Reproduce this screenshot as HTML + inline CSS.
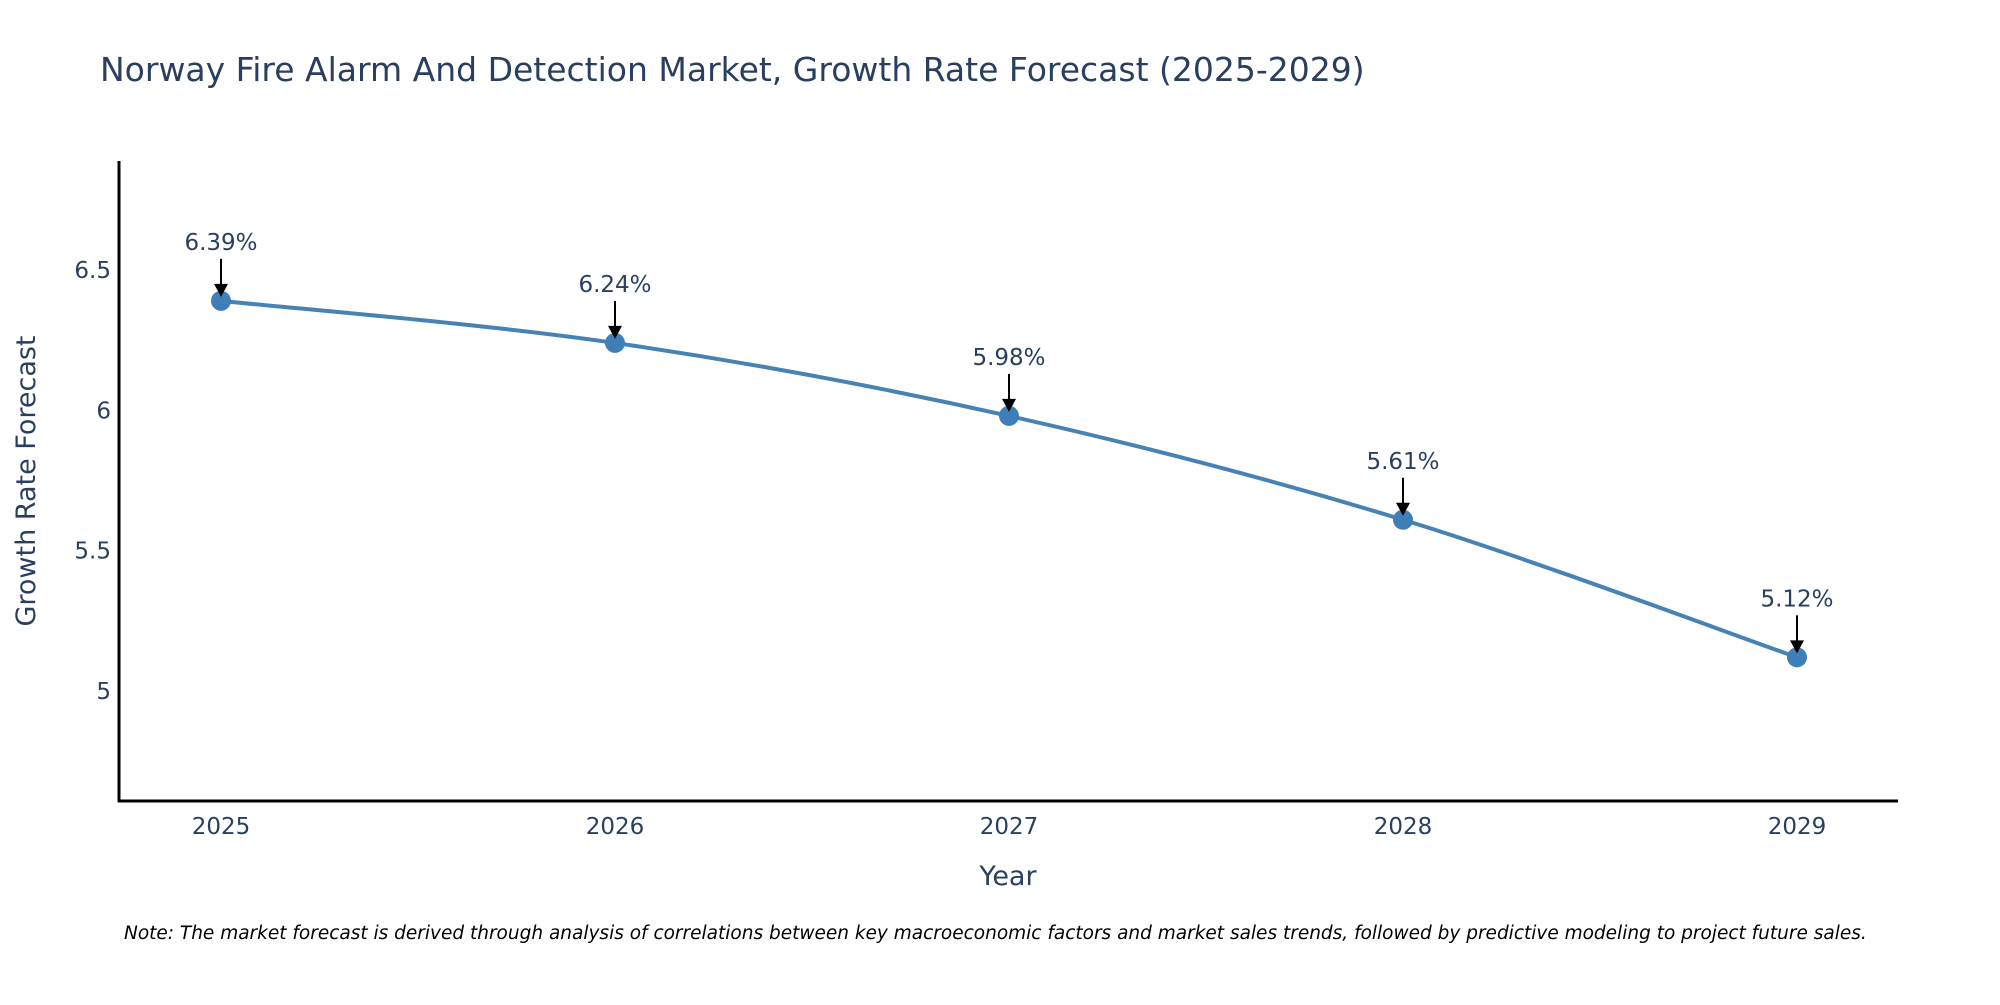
<!DOCTYPE html>
<html><head><meta charset="utf-8"><style>
html,body{margin:0;padding:0;background:#fff;}
svg text{font-family:"DejaVu Sans","Liberation Sans",sans-serif;}
</style></head><body>
<svg id="chart" width="2000" height="1000" xmlns="http://www.w3.org/2000/svg">
<text x="100" y="81" font-size="33" fill="#2a3f5f">Norway Fire Alarm And Detection Market, Growth Rate Forecast (2025-2029)</text>
<g id="plot"></g>
<line x1="119" y1="161" x2="119" y2="802" stroke="#000" stroke-width="3"/>
<line x1="118" y1="801" x2="1898" y2="801" stroke="#000" stroke-width="3"/>
<text x="1008" y="885" font-size="27" fill="#2a3f5f" text-anchor="middle">Year</text>
<text transform="translate(35,481) rotate(-90)" font-size="27" fill="#2a3f5f" text-anchor="middle">Growth Rate Forecast</text>
<text x="124" y="939" font-size="18.5" font-style="italic" fill="#000">Note: The market forecast is derived through analysis of correlations between key macroeconomic factors and market sales trends, followed by predictive modeling to project future sales.</text>
</svg>
<script>
const years = [2025, 2026, 2027, 2028, 2029];
const growth = [6.39, 6.24, 5.98, 5.61, 5.12];
const labels = ["6.39%", "6.24%", "5.98%", "5.61%", "5.12%"];
const yTicks = [5, 5.5, 6, 6.5];
const yTickLabels = ["5", "5.5", "6", "6.5"];

const NS = "http://www.w3.org/2000/svg";
const g = document.getElementById('plot');
function xs(v){ return 221 + (v - 2025) * (1797 - 221) / 4; }
function ys(v){ return 691 - (v - 5) * 280.7; }
function mk(tag, attrs){ const e = document.createElementNS(NS, tag); for (const k in attrs) e.setAttribute(k, attrs[k]); g.appendChild(e); return e; }

yTicks.forEach((t, i) => {
  const e = mk('text', {x: 111, y: ys(t) + 8, 'font-size': 23, fill: '#2a3f5f', 'text-anchor': 'end'});
  
  
  e.textContent = yTickLabels[i];
});
years.forEach(y => {
  const e = mk('text', {x: xs(y), y: 834, 'font-size': 23, fill: '#2a3f5f', 'text-anchor': 'middle'});
  
  
  e.textContent = String(y);
});

const pts = years.map((y, i) => [xs(y), ys(growth[i])]);
let d = 'M' + pts[0][0] + ',' + pts[0][1];
for (let i = 0; i < pts.length - 1; i++) {
  const p0 = pts[Math.max(0, i - 1)], p1 = pts[i], p2 = pts[i + 1], p3 = pts[Math.min(pts.length - 1, i + 2)];
  const c1 = [p1[0] + (p2[0] - p0[0]) / 6, p1[1] + (p2[1] - p0[1]) / 6];
  const c2 = [p2[0] - (p3[0] - p1[0]) / 6, p2[1] - (p3[1] - p1[1]) / 6];
  d += ' C' + c1.join(',') + ' ' + c2.join(',') + ' ' + p2.join(',');
}
const line = mk('path', {d: d, fill: 'none', stroke: '#4682B4', 'stroke-width': 4});



pts.forEach((p, i) => {
  const c = mk('circle', {cx: p[0], cy: p[1], r: 10, fill: '#3f7fb8'});
  
  
  const a = mk('line', {x1: p[0], y1: p[1] - 42, x2: p[0], y2: p[1] - 16, stroke: '#000', 'stroke-width': 2});
  
  
  const h = mk('polygon', {points: (p[0]-7)+','+(p[1]-17)+' '+(p[0]+7)+','+(p[1]-17)+' '+p[0]+','+(p[1]-4), fill: '#000'});
  
  
  const t = mk('text', {x: p[0], y: p[1] - 51, 'font-size': 23, fill: '#2a3f5f', 'text-anchor': 'middle'});
  
  
  t.textContent = labels[i];
});
</script>
</body></html>
